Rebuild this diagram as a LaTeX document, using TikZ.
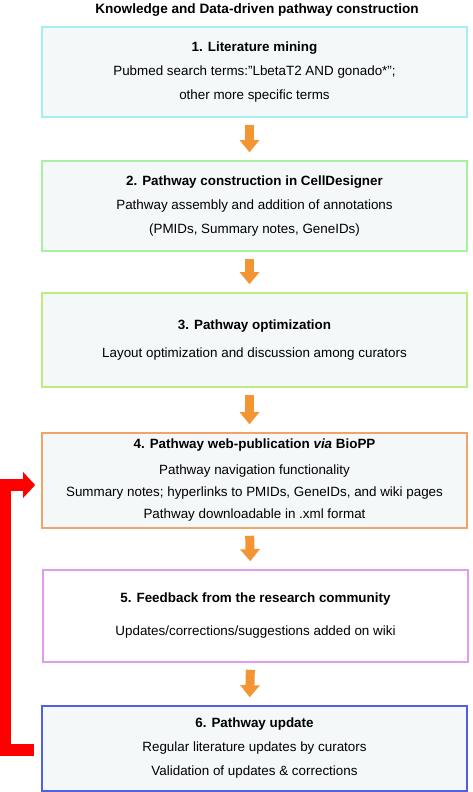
\documentclass[tikz,border=0pt]{standalone}
\usepackage{fontspec}
\setmainfont{Liberation Sans}
\usetikzlibrary{arrows.meta}

\definecolor{boxfill}{HTML}{F5F8F8}
\definecolor{litline}{HTML}{A6EEF2}
\definecolor{conline}{HTML}{A8F0A0}
\definecolor{optline}{HTML}{BDEB7E}
\definecolor{publine}{HTML}{F2A466}
\definecolor{fbline}{HTML}{E39AF0}
\definecolor{updline}{HTML}{5060E0}
\definecolor{flowor}{HTML}{F39532}

\begin{document}
\begin{tikzpicture}[x=1pt, y=-1pt,
    box/.style={draw, line width=1.6pt, fill=boxfill, minimum width=425pt,
                inner sep=0pt, align=center, font=\fontsize{13.4}{24}\selectfont},
    flow/.style={draw=flowor, line width=9pt, -{Triangle[length=12pt,width=19pt]},
                 shorten <=7pt, shorten >=8pt},
    back/.style={draw=red, line width=12pt, line join=miter,
                 -{Triangle[length=12pt,width=25pt]}, shorten <=7pt, shorten >=6pt}]

    \useasboundingbox (0,0) rectangle (472,792);

    \node[font=\bfseries\fontsize{13.6}{15}\selectfont] (title) at (257,10)
        {Knowledge and Data-driven pathway construction};

    \node[box, draw=litline, minimum height=90pt] (lit) at (254.5,72)
        {\textbf{1. Literature mining}\\
         Pubmed search terms:"LbetaT2 AND gonado*";\\
         other more specific terms};
    \node[box, draw=conline, minimum height=90pt] (con) at (254.5,206)
        {\textbf{2. Pathway construction in CellDesigner}\\
         Pathway assembly and addition of annotations\\
         (PMIDs, Summary notes, GeneIDs)};
    \node[box, draw=optline, minimum height=94pt] (opt) at (254.5,340)
        {\textbf{3. Pathway optimization}\\[4pt]
         Layout optimization and discussion among curators};
    \node[box, draw=publine, minimum height=95pt] (pub) at (254.5,480.5)
        {\textbf{4. Pathway web-publication \textit{via} BioPP}\\[2pt]
         Pathway navigation functionality\\[-2pt]
         Summary notes; hyperlinks to PMIDs, GeneIDs, and wiki pages\\[-2pt]
         Pathway downloadable in .xml format};
    \node[box, draw=fbline, fill=white, minimum height=92pt] (fb) at (255.5,616)
        {\textbf{5. Feedback from the research community}\\[9pt]
         Updates/corrections/suggestions added on wiki};
    \node[box, draw=updline, minimum height=85pt] (upd) at (254.5,748.5)
        {\textbf{6. Pathway update}\\
         Regular literature updates by curators\\
         Validation of updates \& corrections};

    % orange flow arrows
    \foreach \a/\b in {lit/con, con/opt, opt/pub, pub/fb, fb/upd}
        \draw[flow] ([xshift=-5pt]\a.south) -- ([xshift=-5pt]\b.north);

    % red feedback loop
    \draw[back] ([yshift=-1.5pt]upd.west) -| ([xshift=-36pt,yshift=-4.5pt]pub.west)
        -- ([yshift=-4.5pt]pub.west);
\end{tikzpicture}
\end{document}
